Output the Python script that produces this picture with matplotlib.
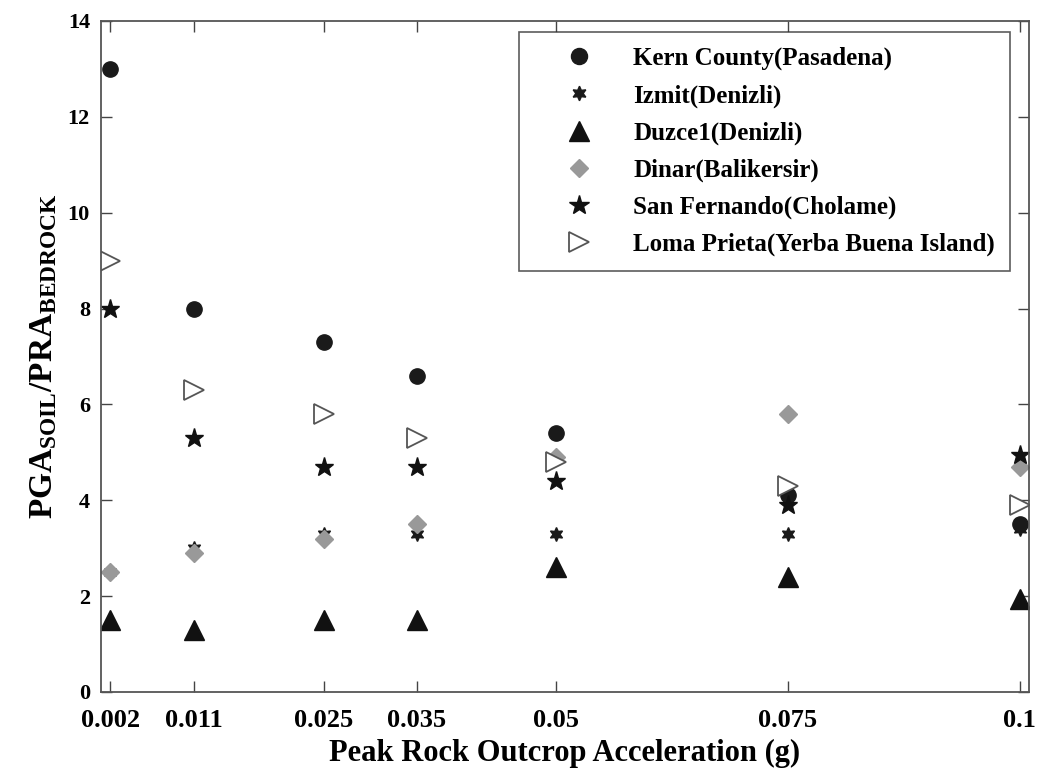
import matplotlib
matplotlib.use("Agg")
import matplotlib.pyplot as plt

# Peak rock outcrop acceleration (g)
pra = [0.002, 0.011, 0.025, 0.035, 0.05, 0.075, 0.1]
tick_labels = ["0.002", "0.011", "0.025", "0.035", "0.05", "0.075", "0.1"]

# PGA soil / PRA bedrock ratios per earthquake record
kern_county = [13.0, 8.0, 7.3, 6.6, 5.4, 4.1, 3.5]
izmit = [2.5, 3.0, 3.3, 3.3, 3.3, 3.3, 3.4]
duzce1 = [1.5, 1.3, 1.5, 1.5, 2.6, 2.4, 1.95]
dinar = [2.5, 2.9, 3.2, 3.5, 4.9, 5.8, 4.7]
san_fernando = [8.0, 5.3, 4.7, 4.7, 4.4, 3.9, 4.95]
loma_prieta = [9.0, 6.3, 5.8, 5.3, 4.8, 4.3, 3.9]

plt.rcParams['font.family'] = ['Liberation Serif', 'DejaVu Serif']
plt.rcParams['font.weight'] = 'bold'
plt.rcParams['mathtext.fontset'] = 'custom'
plt.rcParams['mathtext.rm'] = 'Liberation Serif:bold'
plt.rcParams['mathtext.bf'] = 'Liberation Serif:bold'

fig = plt.figure(figsize=(10.37, 7.71), dpi=100)
ax = fig.add_axes([0.0974, 0.1025, 0.8949, 0.8703])

ax.plot(pra, kern_county, 'o', color='#1a1a1a', markersize=11, label='Kern County(Pasadena)')
ax.plot(pra, izmit, marker=(6, 1, 0), linestyle='none', color='#1a1a1a', markersize=10, label='Izmit(Denizli)')
ax.plot(pra, dinar, 'D', color='#999999', markersize=9, label='Dinar(Balikersir)')
ax.plot(pra, duzce1, '^', color='#111111', markersize=14, label='Duzce1(Denizli)')
ax.plot(pra, san_fernando, '*', color='#111111', markersize=14, label='San Fernando(Cholame)')
ax.plot(pra, loma_prieta, '>', markerfacecolor='white', markeredgecolor='#555555',
        markeredgewidth=1.3, markersize=14, linestyle='none', label='Loma Prieta(Yerba Buena Island)')

ax.set_xlim(0.001, 0.101)
ax.set_ylim(0, 14)
ax.set_xticks(pra)
ax.set_xticklabels(tick_labels, fontsize=19, fontweight='bold')
ax.set_yticks(range(0, 15, 2))
ax.set_yticklabels([str(v) for v in range(0, 15, 2)], fontsize=16, fontweight='bold')
ax.tick_params(direction='in', length=8, top=True, right=True, color='#444444', width=1)
ax.tick_params(axis='x', pad=12)
ax.tick_params(axis='y', pad=8)
for sp in ax.spines.values():
    sp.set_color('#555555')
    sp.set_linewidth(1.3)

ax.set_xlabel('Peak Rock Outcrop Acceleration (g)', fontsize=22, fontweight='bold', labelpad=5)
ax.set_ylabel(r'$\mathrm{PGA_{SOIL}/PRA_{BEDROCK}}$', fontsize=24, labelpad=6)

# legend order follows the original series order
handles, labels = ax.get_legend_handles_labels()
order = ['Kern County(Pasadena)', 'Izmit(Denizli)', 'Duzce1(Denizli)', 'Dinar(Balikersir)',
         'San Fernando(Cholame)', 'Loma Prieta(Yerba Buena Island)']
hmap = dict(zip(labels, handles))
leg = ax.legend([hmap[k] for k in order], order, loc='upper right',
                bbox_to_anchor=(0.9795, 0.9836), borderaxespad=0, fancybox=False,
                edgecolor='#333333', prop={'family': 'Liberation Serif', 'weight': 'bold', 'size': 18},
                labelspacing=0.55, handletextpad=0.35, borderpad=0.6, handlelength=3.6,
                markerscale=1.05)
leg.get_frame().set_linewidth(1.2)

fig.savefig('out.png', dpi=100)
